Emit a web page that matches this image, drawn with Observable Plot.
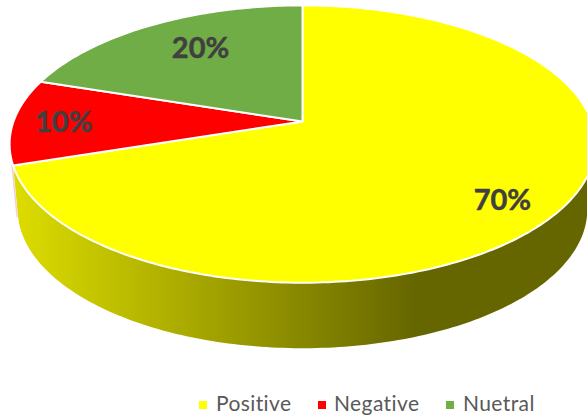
<!DOCTYPE html>
<html>
<head>
<meta charset="utf-8">
<script src="https://cdn.jsdelivr.net/npm/d3@7"></script>
<script src="https://cdn.jsdelivr.net/npm/@observablehq/plot@0.6"></script>
<style>
html,body{margin:0;padding:0;background:#fff;overflow:hidden;width:587px;height:418px}
#chart{position:relative;width:587px;height:418px}
#legend{position:absolute;left:0;top:385px;width:587px;height:33px;font-family:Lato,sans-serif;font-size:21px;color:#595959;letter-spacing:.4px}
#legend i{position:absolute;top:16px;width:8px;height:8px}
#legend span{position:absolute;top:5px;line-height:26px;white-space:nowrap}
</style>
</head>
<body>
<div id="chart"></div>
<script>
const categories = ["Positive", "Negative", "Nuetral"];
const shares = [70, 10, 20];
const colors = ["#ffff00", "#ff0000", "#70ad47"];
const legendSwatchLeft = [199, 318, 446];
const legendTextLeft = [216, 334, 463];

// Perspective of the tilted disc, in chart units
const k = 0.1625, A = 289, B = 135, A2 = 281, depth = 65.5, labelR = 0.75;
const labelNudge = {Positive: [11, 15], Negative: [-22, 1], Nuetral: [14, 2]};

const project = (theta, r = 1, a = A, drop = 0) => {
  const u = r * Math.sin(theta), v = r * Math.cos(theta), w = 1 + k * v;
  return {x: a * u / w, y: B * v / w - drop};
};
const arcs = d3.pie().sort(null).value((d) => d.share)(
  categories.map((name, i) => ({name, share: shares[i]}))
);
const arcPoints = (a0, a1, a, drop) => {
  const n = Math.max(2, Math.ceil((a1 - a0) * 60));
  return d3.range(n + 1).map((i) => project(a0 + (a1 - a0) * i / n, 1, a, drop));
};
const slices = arcs.flatMap((s) => {
  const ring = [{x: 0, y: 0}, ...arcPoints(s.startAngle, s.endAngle, A, 0), {x: 0, y: 0}];
  return ring.map((p) => ({...p, name: s.data.name}));
});
const yellow = arcs[0];
const frontStart = Math.acos(-k);
const rimEnd = yellow.endAngle + 0.1;
const side = [
  ...arcPoints(frontStart, yellow.endAngle, A, 0),
  ...arcPoints(frontStart, rimEnd, A2, depth).reverse()
];
const seam = [project(yellow.endAngle, 1, A, 0), project(rimEnd, 1, A2, depth)];
const labels = arcs.map((s) => {
  const p = project((s.startAngle + s.endAngle) / 2, labelR);
  return {...p, text: s.data.share + "%", name: s.data.name};
});

const defs = () => {
  const svgNS = "http://www.w3.org/2000/svg";
  const d = document.createElementNS(svgNS, "defs");
  const g = document.createElementNS(svgNS, "linearGradient");
  g.setAttribute("id", "sideFill");
  [["0", "#dddd00"], ["0.69", "#666600"], ["1", "#666600"]].forEach(([o, c]) => {
    const s = document.createElementNS(svgNS, "stop");
    s.setAttribute("offset", o);
    s.setAttribute("stop-color", c);
    g.appendChild(s);
  });
  d.appendChild(g);
  return d;
};

const plot = Plot.plot({
  width: 587, height: 385,
  margin: 0,
  x: {domain: [-302, 285], range: [0, 587], axis: null},
  y: {domain: [-264, 121], range: [385, 0], axis: null},
  color: {domain: categories, range: colors},
  marks: [
    defs,
    Plot.line(side, {x: "x", y: "y", fill: "url(#sideFill)", stroke: "none"}),
    Plot.line(seam, {x: "x", y: "y", stroke: "#f6cfd2", strokeWidth: 1.5, dx: -1}),
    Plot.line(slices, {x: "x", y: "y", z: "name", fill: "name", stroke: "#ffffff", strokeWidth: 2, curve: "linear"}),
    ...labels.map((l) => Plot.text([l], {
      x: "x", y: "y", text: "text",
      dx: labelNudge[l.name][0], dy: labelNudge[l.name][1],
      fontFamily: "Lato, sans-serif", fontWeight: 700, fontSize: 29, fill: "#404040",
      stroke: "#404040", strokeWidth: 0.5
    }))
  ]
});
const chart = document.getElementById("chart");
chart.appendChild(plot);

const legend = document.createElement("div");
legend.id = "legend";
categories.forEach((name, i) => {
  const sw = document.createElement("i");
  sw.style.left = legendSwatchLeft[i] + "px";
  sw.style.background = colors[i];
  const tx = document.createElement("span");
  tx.style.left = legendTextLeft[i] + "px";
  tx.textContent = name;
  legend.append(sw, tx);
});
chart.appendChild(legend);
</script>
</body>
</html>
